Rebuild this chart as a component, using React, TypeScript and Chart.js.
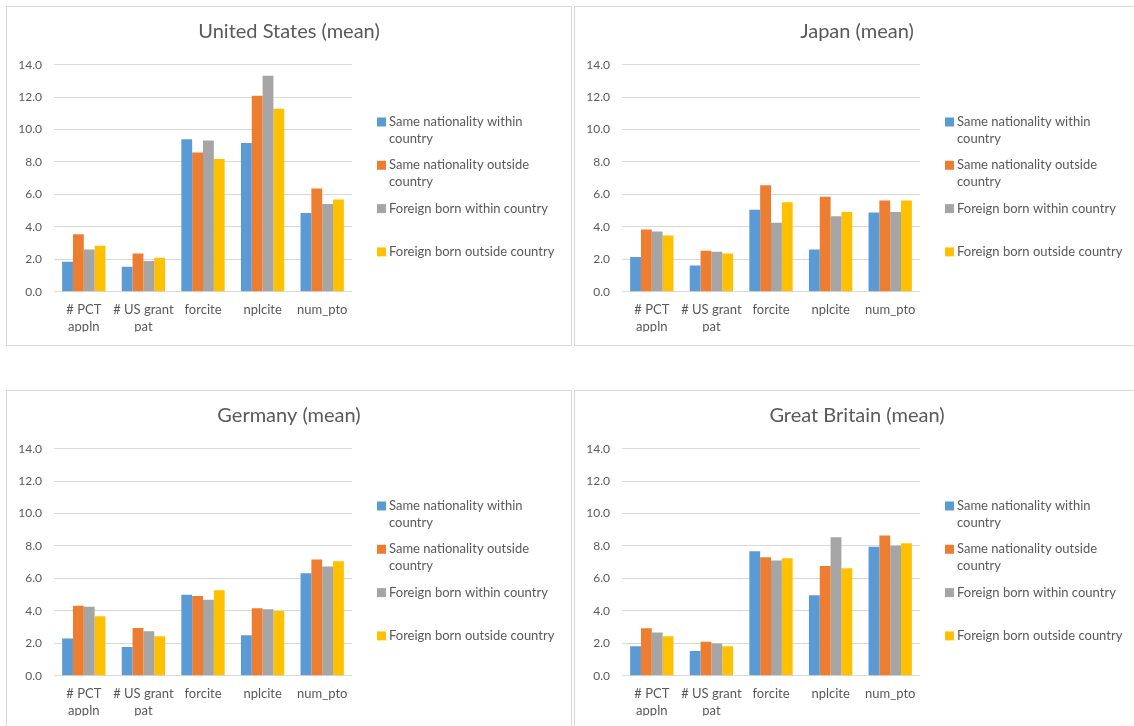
import React, { useEffect, useRef } from "react";
import { Chart, registerables } from "chart.js";

Chart.register(...registerables);

// Indicators on the x axis (line breaks as drawn)
const categories: (string | string[])[] = [
  ["# PCT", "appln"],
  ["# US grant", "pat"],
  "forcite",
  "nplcite",
  "num_pto",
];

const seriesNames = [
  "Same nationality within country",
  "Same nationality outside country",
  "Foreign born within country",
  "Foreign born outside country",
];
const seriesColors = ["#5B9BD5", "#ED7D31", "#A5A5A5", "#FFC000"];

const yMin = 0;
const yMax = 14;
const yStep = 2;

// United States
const usSameWithin = [1.85, 1.54, 9.4, 9.17, 4.85];
const usSameOutside = [3.54, 2.36, 8.59, 12.09, 6.37];
const usForeignWithin = [2.61, 1.89, 9.33, 13.32, 5.41];
const usForeignOutside = [2.84, 2.1, 8.18, 11.29, 5.69];

// Japan
const jpSameWithin = [2.14, 1.62, 5.06, 2.61, 4.89];
const jpSameOutside = [3.84, 2.53, 6.56, 5.86, 5.63];
const jpForeignWithin = [3.72, 2.47, 4.26, 4.65, 4.91];
const jpForeignOutside = [3.47, 2.36, 5.51, 4.91, 5.63];

// Germany
const deSameWithin = [2.29, 1.77, 5.0, 2.49, 6.32];
const deSameOutside = [4.32, 2.94, 4.92, 4.16, 7.16];
const deForeignWithin = [4.26, 2.74, 4.69, 4.1, 6.73];
const deForeignOutside = [3.66, 2.43, 5.27, 3.99, 7.06];

// Great Britain
const gbSameWithin = [1.81, 1.52, 7.68, 4.96, 7.95];
const gbSameOutside = [2.92, 2.1, 7.31, 6.77, 8.65];
const gbForeignWithin = [2.66, 1.98, 7.1, 8.54, 8.01];
const gbForeignOutside = [2.43, 1.81, 7.25, 6.63, 8.17];

const FONT = "Lato, 'Open Sans', sans-serif";
const TEXT = "#595959";
const GRID = "#D9D9D9";

const CANVAS_W = 564;
const CANVAS_H = 338;

function wrapText(ctx: CanvasRenderingContext2D, text: string, maxWidth: number): string[] {
  const words = text.split(" ");
  const lines: string[] = [];
  let cur = "";
  for (const w of words) {
    const test = cur ? cur + " " + w : w;
    if (cur && ctx.measureText(test).width > maxWidth) {
      lines.push(cur);
      cur = w;
    } else {
      cur = test;
    }
  }
  if (cur) lines.push(cur);
  return lines;
}

// Draws the panel title and the wrapped legend at the right of the plot
const panelDecor = {
  id: "panelDecor",
  afterDraw(chart: any) {
    const { ctx, chartArea } = chart;
    const title = chart.options.plugins.panelDecor?.title ?? "";
    ctx.save();
    ctx.fillStyle = TEXT;
    ctx.font = `20px ${FONT}`;
    ctx.textAlign = "center";
    ctx.textBaseline = "middle";
    ctx.fillText(title, chart.width / 2, 25);

    ctx.font = `13px ${FONT}`;
    ctx.textAlign = "left";
    chart.data.datasets.forEach((ds: any, i: number) => {
      const y0 = chartArea.top + 57.3 + i * 43.3;
      ctx.fillStyle = ds.backgroundColor;
      ctx.fillRect(chartArea.right + 25, y0 - 4.5, 9, 9);
      ctx.fillStyle = TEXT;
      const lines = wrapText(ctx, ds.label, 176);
      lines.forEach((ln, j) => ctx.fillText(ln, chartArea.right + 37, y0 + j * 17));
    });
    ctx.restore();
  },
};

type PanelProps = {
  title: string;
  series: number[][];
  left: number;
  top: number;
};

function Panel({ title, series, left, top }: PanelProps) {
  const ref = useRef<HTMLCanvasElement | null>(null);

  useEffect(() => {
    if (!ref.current) return;
    const chart = new Chart(ref.current, {
      type: "bar",
      data: {
        labels: categories as any,
        datasets: series.map((d, i) => ({
          label: seriesNames[i],
          data: d,
          backgroundColor: seriesColors[i],
          borderWidth: 0,
          barPercentage: 1,
          categoryPercentage: 0.727,
        })),
      },
      options: {
        responsive: false,
        animation: false,
        devicePixelRatio: 1,
        layout: { padding: { top: 57.7, right: 219, bottom: 13.3, left: 0 } },
        plugins: {
          legend: { display: false },
          title: { display: false },
          tooltip: { enabled: false },
          panelDecor: { title },
        } as any,
        scales: {
          x: {
            grid: { display: false, drawTicks: false },
            border: { display: false },
            ticks: {
              color: TEXT,
              font: { family: FONT, size: 13, lineHeight: 1.3 },
              padding: 10,
              maxRotation: 0,
              autoSkip: false,
            },
            afterFit: (axis: any) => {
              axis.height = 40;
            },
          },
          y: {
            min: yMin,
            max: yMax,
            grid: { color: GRID, lineWidth: 1, drawTicks: false },
            border: { display: false },
            ticks: {
              stepSize: yStep,
              color: TEXT,
              font: { family: FONT, size: 12 },
              padding: 12,
              callback: (v: any) => Number(v).toFixed(1),
            },
            afterFit: (axis: any) => {
              axis.width = 47;
            },
          },
        },
      },
      plugins: [panelDecor],
    });
    return () => chart.destroy();
  }, [title, series]);

  return (
    <div
      style={{
        position: "absolute",
        left,
        top,
        width: CANVAS_W,
        height: CANVAS_H,
        border: `1px solid ${GRID}`,
        background: "#fff",
      }}
    >
      <canvas ref={ref} width={CANVAS_W} height={CANVAS_H} style={{ display: "block" }} />
    </div>
  );
}

const usSeries = [usSameWithin, usSameOutside, usForeignWithin, usForeignOutside];
const jpSeries = [jpSameWithin, jpSameOutside, jpForeignWithin, jpForeignOutside];
const deSeries = [deSameWithin, deSameOutside, deForeignWithin, deForeignOutside];
const gbSeries = [gbSameWithin, gbSameOutside, gbForeignWithin, gbForeignOutside];

export default function App() {
  return (
    <div
      style={{
        position: "absolute",
        left: 0,
        top: 0,
        width: 1134,
        height: 726,
        overflow: "hidden",
        background: "#fff",
      }}
    >
      <Panel title="United States (mean)" series={usSeries} left={6} top={6} />
      <Panel title="Japan (mean)" series={jpSeries} left={574} top={6} />
      <Panel title="Germany (mean)" series={deSeries} left={6} top={390} />
      <Panel title="Great Britain (mean)" series={gbSeries} left={574} top={390} />
    </div>
  );
}
